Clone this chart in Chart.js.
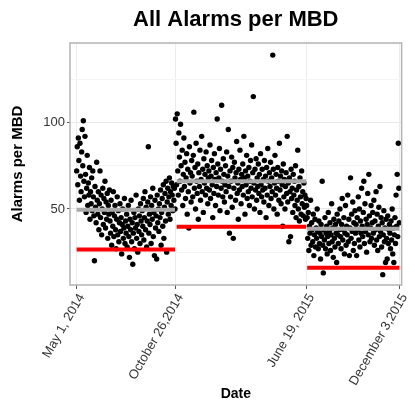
<!DOCTYPE html>
<html>
<head>
<meta charset="utf-8">
<script src="https://cdn.jsdelivr.net/npm/chart.js@4.4.1/dist/chart.umd.min.js"></script>
<style>
  body { margin: 0; background: #fff; }
  #wrap { width: 415px; height: 403px; }
</style>
</head>
<body>
<div id="wrap"><canvas id="myChart"></canvas></div>
<script>
// day offsets from May 1, 2014
const tickDays = [0, 178, 414, 581];
const tickLabels = ['May 1, 2014', 'October 26,2014', 'June 19, 2015', 'December 3,2015'];
const yTicks = [25, 50, 75, 100, 125];
const yLabelled = [50, 100];

// daily values, one array per period
const period1Start = 0;
const period1 = [
    72, 86, 64, 91, 78, 55, 88, 69, 60, 83,
    96, 75, 101, 66, 57, 92, 70, 48, 62, 81,
    52, 65, 58, 74, 44, 60, 53, 68, 49, 72,
    57, 46, 20, 63, 51, 42, 77, 55, 47, 60,
    38, 53, 72, 45, 58, 35, 50, 62, 41, 56,
    48, 66, 39, 54, 44, 59, 33, 52, 47, 61,
    43, 36, 55, 29, 48, 40, 60, 34, 46, 52,
    38, 27, 44, 57, 35, 49, 31, 42, 53, 37,
    45, 24, 41, 50, 33, 39, 56, 30, 43, 36,
    47, 28, 40, 52, 34, 22, 44, 38, 55, 31,
    42, 18, 36, 48, 27, 45, 39, 58, 33, 41,
    25, 50, 37, 46, 30, 53, 43, 35,
    49, 40, 56, 32, 45, 60, 38, 51, 28, 43,
    54, 86, 36, 47, 41, 57, 30, 52, 44, 62,
    34, 48, 23, 55, 39, 46, 21, 58, 42, 50,
    37, 53, 45, 61, 29, 48, 56, 40, 64, 33,
    51, 59, 43, 66, 25, 54, 62, 47, 57, 68,
    44, 60, 52, 65, 58, 49, 63, 55, 62, 50
];
const period2Start = 178;
const period2 = [
    102, 88, 64, 105, 72, 58, 94, 80, 66, 99,
    75, 61, 84, 52, 70, 91, 63, 77, 56, 68,
    82, 47, 73, 60, 39, 86, 65, 71, 54, 78,
    69, 57, 81, 106, 62, 74, 50, 88, 66, 59,
    76, 44, 71, 63, 84, 55, 67, 92, 60, 73,
    48, 79, 65, 70, 58, 83, 62, 75, 53, 68,
    72, 61, 87, 56, 69, 78, 64, 45, 74, 59,
    82, 67, 52, 71, 63, 102, 76, 58, 68, 85,
    49, 73, 62, 110, 66, 57, 79, 70, 54, 64,
    75, 60, 83, 48, 69, 96, 63, 36, 72, 57,
    66, 80, 51, 74, 33, 62, 77, 68, 55, 71,
    89, 59, 65, 44, 73, 61, 84, 67, 53, 70,
    63, 76, 58, 92, 68, 47, 72, 64, 81, 56,
    69, 60, 74, 52, 66, 78, 62, 87, 57, 71,
    115, 65, 50, 73, 61, 79, 55, 68, 63, 76,
    59, 70, 48, 82, 64, 57, 73, 61, 67, 54,
    78, 62, 69, 45, 74, 58, 85, 66, 52, 71,
    63, 77, 56, 68, 60, 139, 73, 50, 65, 81,
    58, 70, 62, 47, 74, 66, 55, 88, 61, 69,
    53, 72, 64, 40, 76, 57, 67, 50, 63, 71,
    59, 92, 54, 65, 31, 68, 60, 34, 73, 56,
    62, 48, 70, 58, 66, 52, 75, 45, 61, 55,
    84, 50, 63, 43, 68, 57, 47, 72, 53, 60,
    46, 65, 51, 58, 44, 56
];
const period3Start = 414;
const period3 = [
    52, 45, 33, 48, 26, 40, 36, 55, 29, 42,
    38, 31, 47, 23, 35, 44, 28, 39, 33, 50,
    37, 27, 43, 30, 36, 21, 41, 34, 66, 29,
    13, 38, 32, 45, 27, 36, 40, 24, 34, 48,
    30, 37, 42, 26, 35, 53, 31, 39, 22, 44,
    33, 28, 41, 36, 19, 47, 35, 30, 43, 38,
    50, 34, 27, 41, 56, 32, 38, 45, 24, 36,
    52, 29, 40, 35, 58, 31, 44, 23, 39, 68,
    33, 47, 37, 54, 26, 42, 30, 49, 36, 41,
    23, 45, 38, 57, 32, 50, 28, 43, 36, 62,
    40, 34, 48, 66, 30, 53, 37, 44, 25, 41,
    59, 35, 70, 46, 31, 39, 52, 33, 42, 48,
    36, 55, 29, 43, 38, 60, 32, 47, 26, 40,
    51, 34, 63, 37, 45, 28, 42, 12, 35, 49,
    31, 39, 19, 44, 33, 21, 46, 30, 38, 41,
    36, 27, 43, 32, 50, 24, 39, 19, 35, 45,
    30, 58, 40, 70, 34, 88, 62, 42
];

// horizontal reference lines per period
const segStart = [0, 180, 415];
const segEnd = [177, 413, 581];
const meanLevel = [49.5, 66, 38.5];
const redLevel = [26.5, 39.7, 16];

document.addEventListener("DOMContentLoaded", function() {
    const ctx = document.getElementById('myChart').getContext('2d');
    const fam = '"Liberation Sans", Arial, Helvetica, sans-serif';

    const points = [];
    [[period1Start, period1], [period2Start, period2], [period3Start, period3]].forEach(function(p) {
        p[1].forEach(function(v, i) { points.push({ x: p[0] + i, y: v }); });
    });

    const datasets = [];
    for (let i = 0; i < segStart.length; i++) {
        datasets.push({
            type: 'line',
            data: [{ x: segStart[i], y: redLevel[i] }, { x: segEnd[i], y: redLevel[i] }],
            borderColor: '#ff0000', borderWidth: 4, pointRadius: 0, order: 0
        });
        datasets.push({
            type: 'line',
            data: [{ x: segStart[i], y: meanLevel[i] }, { x: segEnd[i], y: meanLevel[i] }],
            borderColor: '#a9a9a9', borderWidth: 4, pointRadius: 0, order: 0
        });
    }
    datasets.push({
        data: points,
        backgroundColor: '#000', borderWidth: 0, pointRadius: 2.7, order: 1
    });

    // panel border
    const panelBorder = {
        id: 'panelBorder',
        afterDraw: function(chart) {
            const a = chart.chartArea;
            const c = chart.ctx;
            c.save();
            c.strokeStyle = '#b3b3b3';
            c.lineWidth = 1.5;
            c.strokeRect(a.left, a.top, a.right - a.left, a.bottom - a.top);
            c.restore();
        }
    };

    new Chart(ctx, {
        type: 'scatter',
        data: { datasets: datasets },
        plugins: [panelBorder],
        options: {
            responsive: true,
            maintainAspectRatio: false,
            animation: false,
            layout: { padding: { left: 0, right: 6, top: 0, bottom: 0 } },
            scales: {
                x: {
                    type: 'linear',
                    min: -12, max: 585,
                    afterBuildTicks: function(scale) {
                        scale.ticks = tickDays.map(function(d) { return { value: d }; });
                    },
                    afterFit: function(scale) { scale.height = 118; },
                    ticks: {
                        autoSkip: false,
                        minRotation: 60, maxRotation: 60,
                        padding: 2,
                        labelOffset: 5,
                        color: '#333',
                        font: { family: fam, size: 13 },
                        callback: function(value) {
                            const i = tickDays.indexOf(value);
                            return i >= 0 ? tickLabels[i] : '';
                        }
                    },
                    grid: { color: '#ececec', tickColor: '#555', tickLength: 4, lineWidth: 1 },
                    border: { display: false },
                    title: {
                        display: true, text: 'Date', color: '#000',
                        font: { family: fam, size: 14, weight: 'bold' },
                        padding: { top: 0, bottom: 0 }
                    }
                },
                y: {
                    min: 6, max: 146,
                    afterBuildTicks: function(scale) {
                        scale.ticks = yTicks.map(function(v) { return { value: v }; });
                    },
                    afterFit: function(scale) { scale.width = 70; },
                    ticks: {
                        padding: 2,
                        color: '#333',
                        font: { family: fam, size: 13 },
                        callback: function(value) {
                            return yLabelled.indexOf(value) >= 0 ? String(value) : '';
                        }
                    },
                    grid: {
                        color: function(c) {
                            return c.tick && yLabelled.indexOf(c.tick.value) >= 0 ? '#e8e8e8' : '#f4f4f4';
                        },
                        tickColor: function(c) {
                            return c.tick && yLabelled.indexOf(c.tick.value) >= 0 ? '#555' : 'rgba(0,0,0,0)';
                        },
                        tickLength: 3
                    },
                    border: { display: false },
                    title: {
                        display: true, text: 'Alarms per MBD', color: '#000',
                        font: { family: fam, size: 15, weight: 'bold' },
                        padding: { top: 9, bottom: 0 }
                    }
                }
            },
            plugins: {
                legend: { display: false },
                tooltip: { enabled: false },
                title: {
                    display: true,
                    fullSize: false,
                    text: 'All Alarms per MBD',
                    color: '#000',
                    font: { family: fam, size: 22, weight: 'bold' },
                    padding: { top: 7, bottom: 9.6 }
                }
            }
        }
    });
});
</script>
</body>
</html>
